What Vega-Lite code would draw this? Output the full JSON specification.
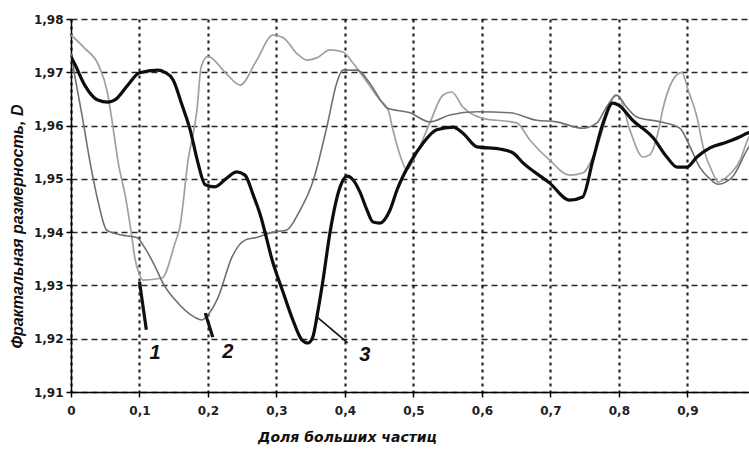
{
  "$schema": "https://vega.github.io/schema/vega-lite/v6.json",
  "width": 678,
  "height": 373,
  "autosize": {"type": "none"},
  "padding": {"left": 71, "top": 19, "right": 0, "bottom": 61},
  "background": "#ffffff",
  "datasets": {
    "curves": [
      {"s":"1","x":0,"y":1.977},{"s":"1","x":0.02,"y":1.9745},{"s":"1","x":0.04,"y":1.9714},{"s":"1","x":0.053,"y":1.9663},{"s":"1","x":0.061,"y":1.960},{"s":"1","x":0.069,"y":1.953},{"s":"1","x":0.079,"y":1.947},{"s":"1","x":0.089,"y":1.939},{"s":"1","x":0.093,"y":1.9353},{"s":"1","x":0.1,"y":1.932},{"s":"1","x":0.105,"y":1.931},{"s":"1","x":0.133,"y":1.9314},{"s":"1","x":0.152,"y":1.938},{"s":"1","x":0.159,"y":1.941},{"s":"1","x":0.171,"y":1.9535},{"s":"1","x":0.184,"y":1.963},{"s":"1","x":0.19,"y":1.971},{"s":"1","x":0.2,"y":1.973},{"s":"1","x":0.225,"y":1.970},{"s":"1","x":0.247,"y":1.9676},{"s":"1","x":0.27,"y":1.972},{"s":"1","x":0.295,"y":1.977},{"s":"1","x":0.31,"y":1.9765},{"s":"1","x":0.33,"y":1.9735},{"s":"1","x":0.344,"y":1.9723},{"s":"1","x":0.359,"y":1.9727},{"s":"1","x":0.378,"y":1.9742},{"s":"1","x":0.397,"y":1.9738},{"s":"1","x":0.412,"y":1.9717},{"s":"1","x":0.427,"y":1.9691},{"s":"1","x":0.451,"y":1.9648},{"s":"1","x":0.463,"y":1.963},{"s":"1","x":0.47,"y":1.9592},{"s":"1","x":0.483,"y":1.9535},{"s":"1","x":0.49,"y":1.9517},{"s":"1","x":0.505,"y":1.9549},{"s":"1","x":0.524,"y":1.9605},{"s":"1","x":0.543,"y":1.9657},{"s":"1","x":0.556,"y":1.9663},{"s":"1","x":0.572,"y":1.9635},{"s":"1","x":0.6,"y":1.9614},{"s":"1","x":0.651,"y":1.9605},{"s":"1","x":0.67,"y":1.9573},{"s":"1","x":0.699,"y":1.9535},{"s":"1","x":0.728,"y":1.9507},{"s":"1","x":0.747,"y":1.9511},{"s":"1","x":0.768,"y":1.956},{"s":"1","x":0.782,"y":1.9616},{"s":"1","x":0.794,"y":1.9657},{"s":"1","x":0.8,"y":1.9655},{"s":"1","x":0.816,"y":1.9592},{"s":"1","x":0.835,"y":1.9541},{"s":"1","x":0.845,"y":1.9545},{"s":"1","x":0.857,"y":1.9586},{"s":"1","x":0.864,"y":1.963},{"s":"1","x":0.879,"y":1.9686},{"s":"1","x":0.892,"y":1.970},{"s":"1","x":0.901,"y":1.9667},{"s":"1","x":0.914,"y":1.9616},{"s":"1","x":0.923,"y":1.956},{"s":"1","x":0.937,"y":1.9511},{"s":"1","x":0.945,"y":1.9494},{"s":"1","x":0.958,"y":1.9504},{"s":"1","x":0.977,"y":1.9535},{"s":"1","x":0.988,"y":1.9573},{"s":"1","x":1.0,"y":1.960},
      {"s":"2","x":0,"y":1.9735},{"s":"2","x":0.006,"y":1.969},{"s":"2","x":0.016,"y":1.962},{"s":"2","x":0.028,"y":1.953},{"s":"2","x":0.04,"y":1.9455},{"s":"2","x":0.052,"y":1.9404},{"s":"2","x":0.072,"y":1.9395},{"s":"2","x":0.096,"y":1.939},{"s":"2","x":0.108,"y":1.937},{"s":"2","x":0.123,"y":1.9335},{"s":"2","x":0.134,"y":1.9305},{"s":"2","x":0.152,"y":1.9273},{"s":"2","x":0.181,"y":1.924},{"s":"2","x":0.191,"y":1.9235},{"s":"2","x":0.2,"y":1.9245},{"s":"2","x":0.215,"y":1.9278},{"s":"2","x":0.235,"y":1.9353},{"s":"2","x":0.254,"y":1.9385},{"s":"2","x":0.271,"y":1.939},{"s":"2","x":0.295,"y":1.940},{"s":"2","x":0.315,"y":1.9404},{"s":"2","x":0.334,"y":1.944},{"s":"2","x":0.353,"y":1.9494},{"s":"2","x":0.374,"y":1.960},{"s":"2","x":0.388,"y":1.968},{"s":"2","x":0.397,"y":1.9704},{"s":"2","x":0.418,"y":1.9704},{"s":"2","x":0.436,"y":1.968},{"s":"2","x":0.454,"y":1.9644},{"s":"2","x":0.461,"y":1.9633},{"s":"2","x":0.495,"y":1.9624},{"s":"2","x":0.524,"y":1.9607},{"s":"2","x":0.553,"y":1.962},{"s":"2","x":0.593,"y":1.9626},{"s":"2","x":0.641,"y":1.9624},{"s":"2","x":0.68,"y":1.961},{"s":"2","x":0.709,"y":1.9607},{"s":"2","x":0.747,"y":1.9595},{"s":"2","x":0.768,"y":1.9605},{"s":"2","x":0.782,"y":1.9635},{"s":"2","x":0.797,"y":1.9657},{"s":"2","x":0.811,"y":1.9635},{"s":"2","x":0.826,"y":1.9616},{"s":"2","x":0.86,"y":1.9607},{"s":"2","x":0.889,"y":1.9595},{"s":"2","x":0.904,"y":1.956},{"s":"2","x":0.918,"y":1.9522},{"s":"2","x":0.933,"y":1.950},{"s":"2","x":0.945,"y":1.949},{"s":"2","x":0.966,"y":1.9504},{"s":"2","x":0.987,"y":1.9554},{"s":"2","x":1.0,"y":1.958},
      {"s":"3","x":0,"y":1.9729},{"s":"3","x":0.006,"y":1.9714},{"s":"3","x":0.02,"y":1.9676},{"s":"3","x":0.039,"y":1.9648},{"s":"3","x":0.054,"y":1.9644},{"s":"3","x":0.064,"y":1.9648},{"s":"3","x":0.083,"y":1.9676},{"s":"3","x":0.1,"y":1.9699},{"s":"3","x":0.127,"y":1.9704},{"s":"3","x":0.137,"y":1.970},{"s":"3","x":0.149,"y":1.9686},{"s":"3","x":0.162,"y":1.9639},{"s":"3","x":0.174,"y":1.9592},{"s":"3","x":0.185,"y":1.9532},{"s":"3","x":0.196,"y":1.9489},{"s":"3","x":0.21,"y":1.9485},{"s":"3","x":0.228,"y":1.9502},{"s":"3","x":0.242,"y":1.9513},{"s":"3","x":0.254,"y":1.9507},{"s":"3","x":0.266,"y":1.947},{"s":"3","x":0.276,"y":1.9434},{"s":"3","x":0.295,"y":1.9342},{"s":"3","x":0.31,"y":1.9286},{"s":"3","x":0.324,"y":1.9235},{"s":"3","x":0.337,"y":1.9198},{"s":"3","x":0.346,"y":1.9192},{"s":"3","x":0.353,"y":1.9203},{"s":"3","x":0.36,"y":1.9248},{"s":"3","x":0.368,"y":1.931},{"s":"3","x":0.378,"y":1.9398},{"s":"3","x":0.393,"y":1.9485},{"s":"3","x":0.403,"y":1.9505},{"s":"3","x":0.412,"y":1.9498},{"s":"3","x":0.422,"y":1.9475},{"s":"3","x":0.432,"y":1.9442},{"s":"3","x":0.441,"y":1.9419},{"s":"3","x":0.451,"y":1.9417},{"s":"3","x":0.466,"y":1.9442},{"s":"3","x":0.476,"y":1.9479},{"s":"3","x":0.495,"y":1.953},{"s":"3","x":0.514,"y":1.9567},{"s":"3","x":0.534,"y":1.9592},{"s":"3","x":0.558,"y":1.9597},{"s":"3","x":0.572,"y":1.9586},{"s":"3","x":0.593,"y":1.956},{"s":"3","x":0.626,"y":1.9556},{"s":"3","x":0.645,"y":1.9549},{"s":"3","x":0.66,"y":1.953},{"s":"3","x":0.699,"y":1.9492},{"s":"3","x":0.728,"y":1.946},{"s":"3","x":0.747,"y":1.9466},{"s":"3","x":0.762,"y":1.9535},{"s":"3","x":0.777,"y":1.9605},{"s":"3","x":0.791,"y":1.9642},{"s":"3","x":0.8,"y":1.9638},{"s":"3","x":0.82,"y":1.961},{"s":"3","x":0.85,"y":1.9577},{"s":"3","x":0.87,"y":1.9541},{"s":"3","x":0.885,"y":1.9522},{"s":"3","x":0.899,"y":1.9522},{"s":"3","x":0.914,"y":1.9541},{"s":"3","x":0.933,"y":1.9558},{"s":"3","x":0.958,"y":1.9569},{"s":"3","x":0.977,"y":1.9579},{"s":"3","x":0.988,"y":1.9586},{"s":"3","x":1.0,"y":1.959}
    ],
    "leaders": [
      {"s":"1","x":0.1,"y":1.9307,"x2":0.11,"y2":1.9217},
      {"s":"2","x":0.196,"y":1.9248,"x2":0.207,"y2":1.9203},
      {"s":"3","x":0.359,"y":1.9241,"x2":0.404,"y2":1.9192}
    ],
    "labels": [
      {"s":"1","x":0.1226,"y":1.9173},
      {"s":"2","x":0.229,"y":1.9175},
      {"s":"3","x":0.429,"y":1.917}
    ]
  },
  "layer": [
    {
      "data": {"name": "curves"},
      "transform": [{"filter": "datum.s == '1'"}],
      "mark": {"type": "line", "interpolate": "monotone", "clip": true, "color": "#a0a0a0", "strokeWidth": 1.7},
      "encoding": {
        "x": {"field": "x", "type": "quantitative", "scale": {"domain": [0, 0.99], "nice": false, "zero": false},
          "axis": {"title": "Доля больших частиц", "values": [0, 0.1, 0.2, 0.3, 0.4, 0.5, 0.6, 0.7, 0.8, 0.9]}},
        "y": {"field": "y", "type": "quantitative", "scale": {"domain": [1.91, 1.98], "nice": false, "zero": false},
          "axis": {"title": "Фрактальная размерность, D", "values": [1.91, 1.92, 1.93, 1.94, 1.95, 1.96, 1.97, 1.98]}},
        "order": {"field": "x", "type": "quantitative"}
      }
    },
    {
      "data": {"name": "curves"},
      "transform": [{"filter": "datum.s == '2'"}],
      "mark": {"type": "line", "interpolate": "monotone", "clip": true, "color": "#707070", "strokeWidth": 1.6},
      "encoding": {
        "x": {"field": "x", "type": "quantitative"},
        "y": {"field": "y", "type": "quantitative"},
        "order": {"field": "x", "type": "quantitative"}
      }
    },
    {
      "data": {"name": "curves"},
      "transform": [{"filter": "datum.s == '3'"}],
      "mark": {"type": "line", "interpolate": "monotone", "clip": true, "color": "#0d0d0d", "strokeWidth": 3.2},
      "encoding": {
        "x": {"field": "x", "type": "quantitative"},
        "y": {"field": "y", "type": "quantitative"},
        "order": {"field": "x", "type": "quantitative"}
      }
    },
    {
      "data": {"name": "leaders"},
      "transform": [{"filter": "datum.s != '3'"}],
      "mark": {"type": "rule", "color": "#111111", "strokeWidth": 3.2},
      "encoding": {
        "x": {"field": "x", "type": "quantitative"},
        "y": {"field": "y", "type": "quantitative"},
        "x2": {"field": "x2"},
        "y2": {"field": "y2"}
      }
    },
    {
      "data": {"name": "leaders"},
      "transform": [{"filter": "datum.s == '3'"}],
      "mark": {"type": "rule", "color": "#111111", "strokeWidth": 1.6},
      "encoding": {
        "x": {"field": "x", "type": "quantitative"},
        "y": {"field": "y", "type": "quantitative"},
        "x2": {"field": "x2"},
        "y2": {"field": "y2"}
      }
    },
    {
      "data": {"name": "labels"},
      "mark": {"type": "text", "font": "Liberation Sans", "fontSize": 20, "fontStyle": "italic", "fontWeight": "bold", "color": "#111111", "align": "center", "baseline": "middle"},
      "encoding": {
        "x": {"field": "x", "type": "quantitative"},
        "y": {"field": "y", "type": "quantitative"},
        "text": {"field": "s"}
      }
    }
  ],
  "config": {
    "view": {"stroke": null},
    "axisX": {
      "labelExpr": "datum.value == 0 ? '0' : replace(format(datum.value, '.1f'), '.', ',')",
      "labelFont": "DejaVu Sans", "labelFontWeight": "bold", "labelFontSize": 12, "labelColor": "#222222",
      "labelPadding": 8, "labelFlush": false,
      "tickSize": 5, "tickColor": "#000000", "tickWidth": 1.5,
      "domainColor": "#000000", "domainWidth": 1.5,
      "grid": true, "gridColor": "#000000", "gridDash": [3, 4], "gridWidth": 2.2, "gridOpacity": 0.85,
      "titleFont": "DejaVu Sans", "titleFontSize": 14, "titleFontWeight": "bold", "titleFontStyle": "italic", "titleColor": "#111111",
      "titleX": 276, "titleY": 45, "titleBaseline": "middle", "titleAlign": "center"
    },
    "axisY": {
      "labelExpr": "replace(format(datum.value, '.2f'), '.', ',')",
      "labelFont": "DejaVu Sans", "labelFontWeight": "bold", "labelFontSize": 12, "labelColor": "#1a1a1a",
      "labelPadding": 3,
      "tickSize": 5, "tickColor": "#000000", "tickWidth": 1.5,
      "domainColor": "#000000", "domainWidth": 1.5,
      "grid": true, "gridColor": "#000000", "gridDash": [6, 4], "gridWidth": 1.4, "gridOpacity": 0.85,
      "titleFont": "Liberation Sans", "titleFontSize": 16, "titleFontWeight": "bold", "titleFontStyle": "italic", "titleColor": "#111111",
      "titleX": -54, "titleY": 207, "titleBaseline": "middle", "titleAlign": "center"
    }
  }
}
